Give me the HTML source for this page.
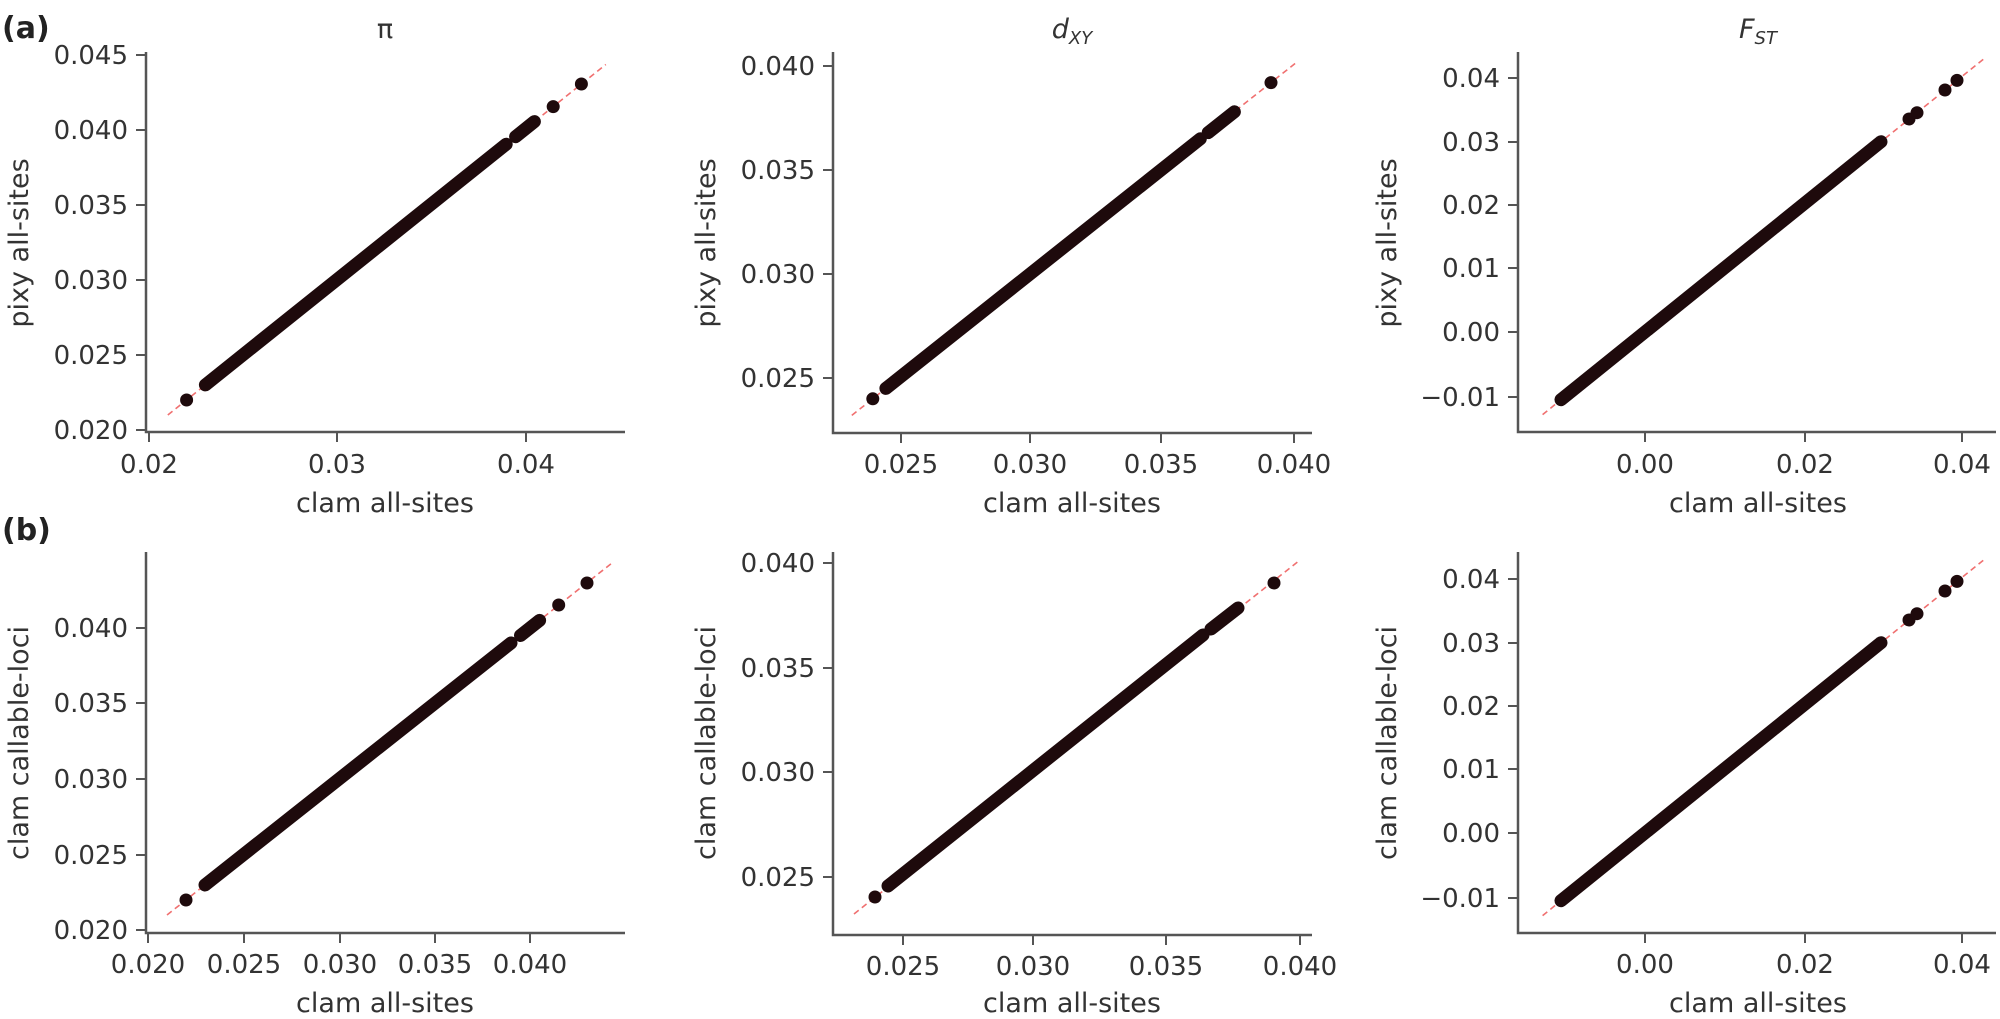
<!DOCTYPE html>
<html><head><meta charset="utf-8"><style>
html,body{margin:0;padding:0;background:#fff;}
svg{display:block;}
text{font-family:"DejaVu Sans","Liberation Sans",sans-serif;fill:#333;}
.t{font-size:26px;}
.l{font-size:27px;}
.ax{stroke:#555;stroke-width:2.5;fill:none;}
.tk{stroke:#555;stroke-width:2;}
.band{stroke:#1e0a0c;stroke-linecap:round;stroke-width:13;fill:none;}
.dl{stroke:#f07070;stroke-width:1.6;stroke-dasharray:6,4;fill:none;}
circle{fill:#1e0a0c;}
</style></head><body>
<svg width="2000" height="1019" viewBox="0 0 2000 1019" xmlns="http://www.w3.org/2000/svg">
<text x="2" y="38" style="font-size:30px;font-weight:bold;fill:#222">(a)</text>
<text x="2" y="540" style="font-size:30px;font-weight:bold;fill:#222">(b)</text>

<!-- A1 pi -->
<text x="385" y="38" class="l" text-anchor="middle">π</text>
<path class="ax" d="M146 52 V432 H625"/>
<g class="tk">
<line x1="136" y1="55" x2="146" y2="55"/><line x1="136" y1="130" x2="146" y2="130"/><line x1="136" y1="205" x2="146" y2="205"/><line x1="136" y1="280" x2="146" y2="280"/><line x1="136" y1="355" x2="146" y2="355"/><line x1="136" y1="430" x2="146" y2="430"/>
<line x1="149" y1="432" x2="149" y2="442"/><line x1="337" y1="432" x2="337" y2="442"/><line x1="526" y1="432" x2="526" y2="442"/>
</g>
<g class="t" text-anchor="end">
<text x="128" y="64">0.045</text><text x="128" y="139">0.040</text><text x="128" y="214">0.035</text><text x="128" y="289">0.030</text><text x="128" y="364">0.025</text><text x="128" y="439">0.020</text>
</g>
<g class="t" text-anchor="middle">
<text x="149" y="473">0.02</text><text x="337" y="473">0.03</text><text x="526" y="473">0.04</text>
</g>
<text x="385" y="512" class="l" text-anchor="middle">clam all-sites</text>
<text transform="translate(28,243) rotate(-90)" class="l" text-anchor="middle">pixy all-sites</text>
<path class="dl" d="M167.8 415 L605.8 64.5"/>
<path class="band" d="M205.4 384.9 L506.2 144.2"/>
<path class="band" d="M515.6 136.7 L534.4 121.6"/>
<circle cx="186.6" cy="400" r="6.5"/><circle cx="553.2" cy="106.6" r="6.5"/><circle cx="581.4" cy="84" r="6.5"/>

<!-- A2 dxy -->
<text x="1072" y="38" class="l" text-anchor="middle" font-style="italic">d<tspan font-size="18" dy="6">XY</tspan></text>
<path class="ax" d="M833 52 V433 H1312"/>
<g class="tk">
<line x1="823" y1="66" x2="833" y2="66"/><line x1="823" y1="170" x2="833" y2="170"/><line x1="823" y1="274" x2="833" y2="274"/><line x1="823" y1="378" x2="833" y2="378"/>
<line x1="901" y1="433" x2="901" y2="443"/><line x1="1030" y1="433" x2="1030" y2="443"/><line x1="1161" y1="433" x2="1161" y2="443"/><line x1="1294" y1="433" x2="1294" y2="443"/>
</g>
<g class="t" text-anchor="end">
<text x="815" y="75">0.040</text><text x="815" y="179">0.035</text><text x="815" y="283">0.030</text><text x="815" y="387">0.025</text>
</g>
<g class="t" text-anchor="middle">
<text x="901" y="473">0.025</text><text x="1030" y="473">0.030</text><text x="1161" y="473">0.035</text><text x="1294" y="473">0.040</text>
</g>
<text x="1072" y="512" class="l" text-anchor="middle">clam all-sites</text>
<text transform="translate(715,243) rotate(-90)" class="l" text-anchor="middle">pixy all-sites</text>
<path class="dl" d="M851.8 415.4 L1297.2 61.8"/>
<path class="band" d="M885.9 388.4 L1200.3 138.8"/>
<path class="band" d="M1208.2 132.6 L1234.4 111.8"/>
<circle cx="872.8" cy="398.8" r="6.5"/><circle cx="1271" cy="82.6" r="6.5"/>

<!-- A3 Fst -->
<text x="1758" y="38" class="l" text-anchor="middle" font-style="italic">F<tspan font-size="18" dy="6">ST</tspan></text>
<path class="ax" d="M1518 52 V432 H1996"/>
<g class="tk">
<line x1="1508" y1="78" x2="1518" y2="78"/><line x1="1508" y1="142" x2="1518" y2="142"/><line x1="1508" y1="205" x2="1518" y2="205"/><line x1="1508" y1="268" x2="1518" y2="268"/><line x1="1508" y1="332" x2="1518" y2="332"/><line x1="1508" y1="397" x2="1518" y2="397"/>
<line x1="1645" y1="432" x2="1645" y2="442"/><line x1="1805" y1="432" x2="1805" y2="442"/><line x1="1962" y1="432" x2="1962" y2="442"/>
</g>
<g class="t" text-anchor="end">
<text x="1500" y="87">0.04</text><text x="1500" y="151">0.03</text><text x="1500" y="214">0.02</text><text x="1500" y="277">0.01</text><text x="1500" y="341">0.00</text><text x="1500" y="406">−0.01</text>
</g>
<g class="t" text-anchor="middle">
<text x="1645" y="473">0.00</text><text x="1805" y="473">0.02</text><text x="1962" y="473">0.04</text>
</g>
<text x="1758" y="512" class="l" text-anchor="middle">clam all-sites</text>
<text transform="translate(1396,243) rotate(-90)" class="l" text-anchor="middle">pixy all-sites</text>
<path class="dl" d="M1542.6 414.6 L1985 57.9"/>
<path class="band" d="M1561 399.7 L1881 141.7"/>
<circle cx="1909" cy="119" r="6.5"/><circle cx="1917" cy="112.7" r="6.5"/><circle cx="1945" cy="90" r="6.5"/><circle cx="1957" cy="80.4" r="6.5"/>

<!-- B1 -->
<path class="ax" d="M146 552 V933 H625"/>
<g class="tk">
<line x1="136" y1="628" x2="146" y2="628"/><line x1="136" y1="703" x2="146" y2="703"/><line x1="136" y1="779" x2="146" y2="779"/><line x1="136" y1="855" x2="146" y2="855"/><line x1="136" y1="930" x2="146" y2="930"/>
<line x1="148" y1="933" x2="148" y2="943"/><line x1="244" y1="933" x2="244" y2="943"/><line x1="340" y1="933" x2="340" y2="943"/><line x1="435" y1="933" x2="435" y2="943"/><line x1="530" y1="933" x2="530" y2="943"/>
</g>
<g class="t" text-anchor="end">
<text x="128" y="637">0.040</text><text x="128" y="712">0.035</text><text x="128" y="788">0.030</text><text x="128" y="864">0.025</text><text x="128" y="939">0.020</text>
</g>
<g class="t" text-anchor="middle">
<text x="148" y="973">0.020</text><text x="244" y="973">0.025</text><text x="340" y="973">0.030</text><text x="435" y="973">0.035</text><text x="530" y="973">0.040</text>
</g>
<text x="385" y="1012" class="l" text-anchor="middle">clam all-sites</text>
<text transform="translate(28,743) rotate(-90)" class="l" text-anchor="middle">clam callable-loci</text>
<path class="dl" d="M167 915 L612 563"/>
<path class="band" d="M205 885 L511 643"/>
<path class="band" d="M520.5 635.5 L539.6 620.4"/>
<circle cx="186" cy="900" r="6.5"/><circle cx="558.7" cy="605" r="6.5"/><circle cx="587" cy="583" r="6.5"/>

<!-- B2 -->
<path class="ax" d="M833 552 V935 H1312"/>
<g class="tk">
<line x1="823" y1="563" x2="833" y2="563"/><line x1="823" y1="668" x2="833" y2="668"/><line x1="823" y1="772" x2="833" y2="772"/><line x1="823" y1="877" x2="833" y2="877"/>
<line x1="903" y1="935" x2="903" y2="945"/><line x1="1033" y1="935" x2="1033" y2="945"/><line x1="1166" y1="935" x2="1166" y2="945"/><line x1="1300" y1="935" x2="1300" y2="945"/>
</g>
<g class="t" text-anchor="end">
<text x="815" y="572">0.040</text><text x="815" y="677">0.035</text><text x="815" y="781">0.030</text><text x="815" y="886">0.025</text>
</g>
<g class="t" text-anchor="middle">
<text x="903" y="975">0.025</text><text x="1033" y="975">0.030</text><text x="1166" y="975">0.035</text><text x="1300" y="975">0.040</text>
</g>
<text x="1072" y="1012" class="l" text-anchor="middle">clam all-sites</text>
<text transform="translate(715,743) rotate(-90)" class="l" text-anchor="middle">clam callable-loci</text>
<path class="dl" d="M854 914 L1300 560"/>
<path class="band" d="M888 886 L1203 635"/>
<path class="band" d="M1211 629 L1238 608"/>
<circle cx="875" cy="897" r="6.5"/><circle cx="1274" cy="583" r="6.5"/>

<!-- B3 -->
<path class="ax" d="M1518 552 V933 H1996"/>
<g class="tk">
<line x1="1508" y1="579" x2="1518" y2="579"/><line x1="1508" y1="643" x2="1518" y2="643"/><line x1="1508" y1="706" x2="1518" y2="706"/><line x1="1508" y1="769" x2="1518" y2="769"/><line x1="1508" y1="833" x2="1518" y2="833"/><line x1="1508" y1="898" x2="1518" y2="898"/>
<line x1="1645" y1="933" x2="1645" y2="943"/><line x1="1805" y1="933" x2="1805" y2="943"/><line x1="1962" y1="933" x2="1962" y2="943"/>
</g>
<g class="t" text-anchor="end">
<text x="1500" y="588">0.04</text><text x="1500" y="652">0.03</text><text x="1500" y="715">0.02</text><text x="1500" y="778">0.01</text><text x="1500" y="842">0.00</text><text x="1500" y="907">−0.01</text>
</g>
<g class="t" text-anchor="middle">
<text x="1645" y="973">0.00</text><text x="1805" y="973">0.02</text><text x="1962" y="973">0.04</text>
</g>
<text x="1758" y="1012" class="l" text-anchor="middle">clam all-sites</text>
<text transform="translate(1396,743) rotate(-90)" class="l" text-anchor="middle">clam callable-loci</text>
<path class="dl" d="M1542.6 915.6 L1985 558.9"/>
<path class="band" d="M1561 900.7 L1881 642.7"/>
<circle cx="1909" cy="620" r="6.5"/><circle cx="1917" cy="613.7" r="6.5"/><circle cx="1945" cy="591" r="6.5"/><circle cx="1957" cy="581.4" r="6.5"/>
</svg>
</body></html>
